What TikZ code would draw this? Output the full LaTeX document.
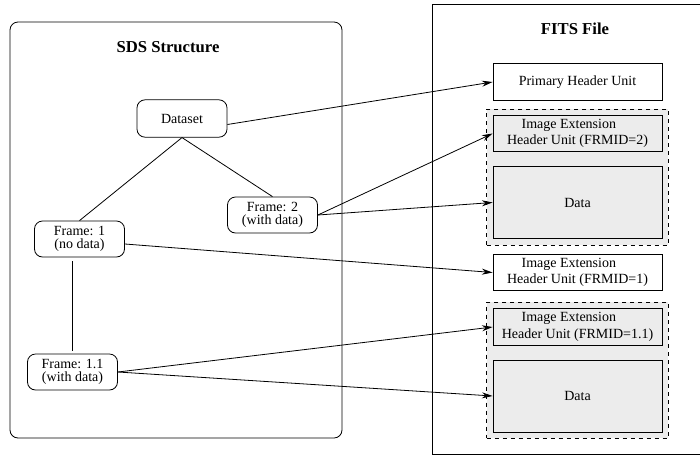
\documentclass[tikz,border=0pt]{standalone}
\usepackage{fontspec}
\setmainfont{Liberation Serif}
\usepackage{xcolor}
\usepackage{tikz}
\usetikzlibrary{arrows.meta,fit,backgrounds}
\definecolor{unitgray}{RGB}{236,236,236}

\begin{document}
\begin{tikzpicture}[x=0.75pt,y=-0.75pt,line width=0.6pt,
	framebox/.style={draw,rounded corners=6pt,align=center,minimum width=67.5pt,minimum height=27pt,inner sep=1pt,font=\rmfamily\fontsize{10.5}{9.5}\selectfont},
	unitbox/.style={draw,rectangle,align=center,minimum width=126.75pt,minimum height=27.5pt,inner sep=1pt,font=\rmfamily\fontsize{10.5}{12.5}\selectfont},
	databox/.style={unitbox,fill=unitgray,minimum height=54pt},
	groupbox/.style={draw,dashed,fill=unitgray,inner sep=4.5pt},
	link/.style={-{Stealth[length=8pt,width=4.5pt]}},
	title/.style={font=\rmfamily\fontsize{12.5}{14}\selectfont\bfseries},
	]
	\useasboundingbox (0,0) rectangle (700,458);
	% SDS side
	\draw[rounded corners=6pt] (10,22) rectangle (342,438);
	\node[title] (sdstitle) at (168,47) {SDS Structure};
	\node[framebox,minimum height=28pt] (dataset) at (182,118.5) {Dataset};
	\node[framebox] (frm2) at (272.5,215) {Frame: 2\\(with data)};
	\node[framebox] (frm1) at (79.5,239) {Frame: 1\\(no data)};
	\node[framebox] (frm11) at (72.5,372) {Frame: 1.1\\(with data)};
	\draw (dataset.south) -- (frm2.north);
	\draw (dataset.south) -- (frm1.north);
	\draw[shorten <=3pt,shorten >=2pt] (frm11.north |- frm1.south) -- (frm11.north);
	% FITS side
	\draw (432,4) rectangle (706,454);
	\node[title] (fitstitle) at (575,29) {FITS File};
	\node[unitbox] (phu) at (577.5,82) {Primary Header Unit};
	\node[unitbox,fill=unitgray] (ie2) at (577.5,133.5) {Image Extension\hspace*{13pt}\\Header Unit (FRMID=2)};
	\node[databox] (data2) at (577.5,202.5) {Data};
	\node[unitbox] (ie1) at (577.5,272.5) {Image Extension\hspace*{13pt}\\Header Unit (FRMID=1)};
	\node[unitbox,fill=unitgray] (ie11) at (577.5,327) {Image Extension\hspace*{13pt}\\Header Unit (FRMID=1.1)};
	\node[databox] (data11) at (577.5,396) {Data};
	\begin{scope}[on background layer]
		\node[groupbox,fit=(ie2)(data2)] (grp2) {};
		\node[groupbox,fit=(ie11)(data11)] (grp11) {};
	\end{scope}
	% links
	\draw[link] (dataset.east) ++(0,6) -- (phu.west);
	\draw[link] (frm2.east) -- (ie2.west);
	\draw[link] (frm2.east) -- (data2.west);
	\draw[link] (frm1.east) ++(0,5) -- (ie1.west);
	\draw[link] (frm11.east) -- (ie11.west);
	\draw[link] (frm11.east) -- (data11.west);
\end{tikzpicture}
\end{document}
